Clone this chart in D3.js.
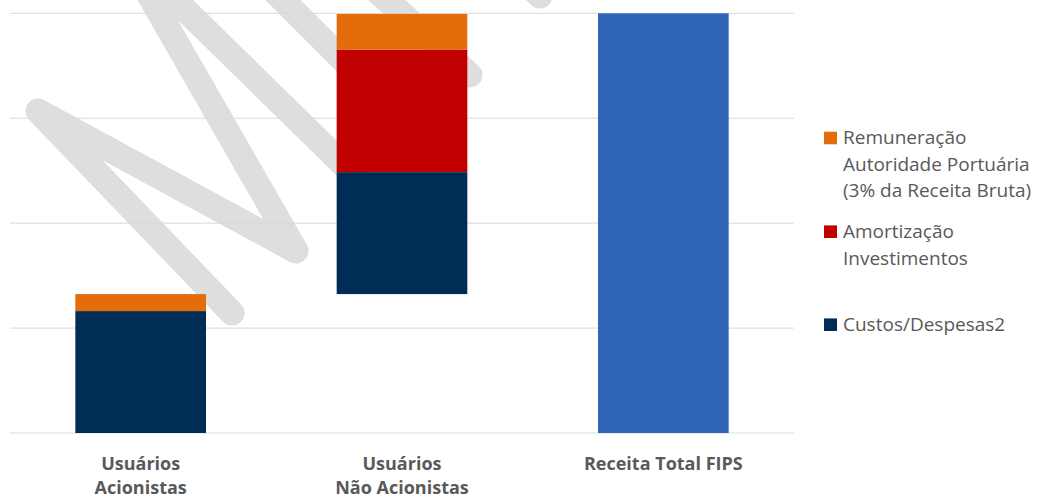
<!DOCTYPE html>
<html lang="pt">
  <head>
    <meta charset="utf-8">
    <title>Receita FIPS</title>
    <script src="https://d3js.org/d3.v7.min.js"></script>
    <style>
      body { margin: 0; background: #fff; }
      text { font-family: "Open Sans", "Noto Sans", sans-serif; fill: #595959; }
    </style>
  </head>
  <body>
    <svg width="1041" height="497"></svg>
    <script type="text/javascript">
      // data (gridline step = 1 unit)
      var categories = ["Usuários|Acionistas", "Usuários|Não Acionistas", "Receita Total FIPS"];
      var base        = [0,     1.324, 0];   // invisible offset of the floating bar
      var custos      = [1.162, 1.162, 0];
      var amortizacao = [0,     1.168, 0];
      var remuneracao = [0.162, 0.34,  0];
      var receita     = [0,     0,     4];
      var yTicks = [0, 1, 2, 3, 4];

      var legendItems = [
        { key: "remuneracao", lines: ["Remuneração", "Autoridade Portuária", "(3% da Receita Bruta)"] },
        { key: "amortizacao", lines: ["Amortização", "Investimentos"] },
        { key: "custos", lines: ["Custos/Despesas2"] }
      ];

      var color = {
        base: "none",
        custos: "#002d55",
        amortizacao: "#c00000",
        remuneracao: "#e46c0a",
        receita: "#2e66b5"
      };

      var svg = d3.select("svg"),
          width = +svg.attr("width"),
          height = +svg.attr("height");

      var plot = { left: 10, right: 794, top: 13.3, bottom: 433 };

      var x = d3.scaleBand()
          .domain(categories)
          .range([plot.left, plot.right])
          .paddingInner(0.5)
          .paddingOuter(0.25);

      var y = d3.scaleLinear()
          .domain([0, 4])
          .range([plot.bottom, plot.top]);

      // watermark (decoration, pixel space)
      var wm = svg.append("g")
          .attr("fill", "none")
          .attr("stroke", "#dedede")
          .attr("stroke-width", 25)
          .attr("stroke-linecap", "round")
          .attr("stroke-linejoin", "round");
      var wmLine = d3.line();
      [
        [[232, 313], [38, 111], [296, 251], [122, -52], [400, 220]],
        [[255, -28], [400, 117]],
        [[350, -33], [470, 75]],
        [[480, -60], [540, -4]]
      ].forEach(function(pts) { wm.append("path").attr("d", wmLine(pts)); });

      // gridlines
      svg.append("g")
        .selectAll("line")
        .data(yTicks)
        .enter().append("line")
          .attr("x1", plot.left)
          .attr("x2", plot.right)
          .attr("y1", function(d) { return y(d); })
          .attr("y2", function(d) { return y(d); })
          .attr("stroke", "#d9d9d9")
          .attr("stroke-width", 1);

      // stacked bars
      var keys = ["base", "custos", "amortizacao", "remuneracao", "receita"];
      var series = { base: base, custos: custos, amortizacao: amortizacao, remuneracao: remuneracao, receita: receita };
      var rows = categories.map(function(c, i) {
        var r = { cat: c };
        keys.forEach(function(k) { r[k] = series[k][i]; });
        return r;
      });
      var stacked = d3.stack().keys(keys)(rows);

      svg.append("g")
        .selectAll("g")
        .data(stacked.filter(function(s) { return s.key !== "base"; }))
        .enter().append("g")
          .attr("fill", function(d) { return color[d.key]; })
        .selectAll("rect")
        .data(function(d) { return d.filter(function(p) { return p[1] - p[0] > 0; }); })
        .enter().append("rect")
          .attr("x", function(d) { return x(d.data.cat); })
          .attr("width", x.bandwidth())
          .attr("y", function(d) { return y(d[1]); })
          .attr("height", function(d) { return y(d[0]) - y(d[1]); });

      // category labels
      var labels = svg.append("g")
        .selectAll("text")
        .data(categories)
        .enter().append("text")
          .attr("text-anchor", "middle")
          .attr("font-size", "18px")
          .attr("font-weight", "bold")
          .attr("x", function(d) { return x(d) + x.bandwidth() / 2; })
          .attr("y", 470);
      labels.selectAll("tspan")
        .data(function(d) { return d.split("|"); })
        .enter().append("tspan")
          .attr("x", function() { return this.parentNode.getAttribute("x"); })
          .attr("dy", function(d, i) { return i === 0 ? 0 : 23.5; })
          .text(function(d) { return d; });

      // legend
      var legendTop = [144.3, 238, 331];
      var legend = svg.append("g")
        .selectAll("g")
        .data(legendItems)
        .enter().append("g")
          .attr("transform", function(d, i) { return "translate(824," + legendTop[i] + ")"; });
      legend.append("rect")
          .attr("x", 0)
          .attr("y", -12.6)
          .attr("width", 13)
          .attr("height", 12.6)
          .attr("fill", function(d) { return color[d.key]; });
      legend.append("text")
          .attr("x", 19)
          .attr("y", 0)
          .attr("font-size", "19px")
        .selectAll("tspan")
        .data(function(d) { return d.lines; })
        .enter().append("tspan")
          .attr("x", 19)
          .attr("dy", function(d, i) { return i === 0 ? 0 : 26.5; })
          .text(function(d) { return d; });
    </script>
  </body>
</html>
